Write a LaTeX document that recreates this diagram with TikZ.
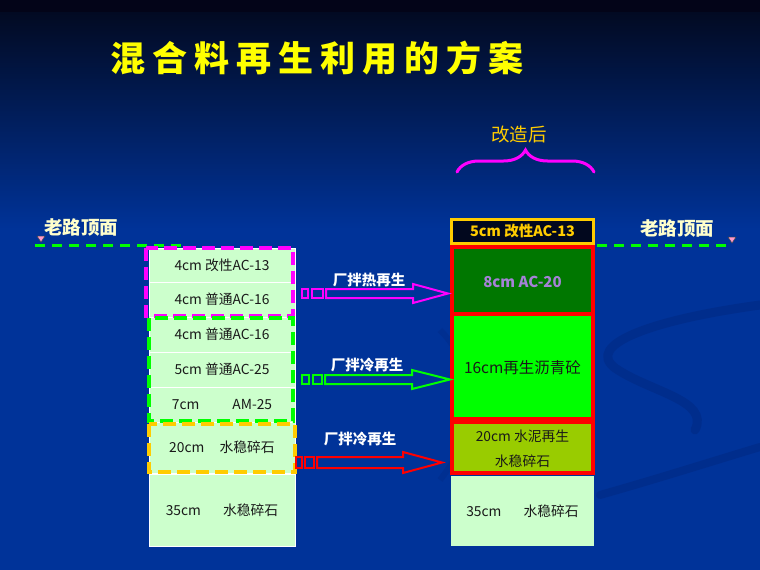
\documentclass[tikz,border=0pt]{standalone}
\usepackage{fontspec}
\newfontfamily\cjk{Noto Sans CJK SC}
\usetikzlibrary{decorations.pathreplacing}
\definecolor{bgblue}{RGB}{0,51,153}
\definecolor{bgtop}{RGB}{2,10,34}
\definecolor{topband}{RGB}{3,4,24}
\definecolor{swirl}{RGB}{0,45,140}
\definecolor{lgreen}{RGB}{204,255,204}
\definecolor{dgreen}{RGB}{0,119,0}
\definecolor{bgreen}{RGB}{0,255,0}
\definecolor{olive}{RGB}{153,204,0}
\definecolor{gold}{RGB}{255,204,0}
\definecolor{cream}{RGB}{255,255,204}
\definecolor{lav}{RGB}{165,130,215}
\definecolor{pink}{RGB}{255,153,204}
\definecolor{mag}{RGB}{255,0,255}
\definecolor{darkfill}{RGB}{2,8,30}
\tikzset{
  layer/.style={draw=white, line width=1pt, fill=lgreen, minimum width=146pt, inner sep=0pt, text=black!90, font=\cjk\fontsize{13.8}{16}\selectfont},
  rlayer/.style={minimum width=141pt, inner sep=0pt, text=black!90, font=\cjk\fontsize{13.8}{16}\selectfont},
  roadline/.style={bgreen, line width=3pt, dash pattern=on 10pt off 7pt},
  dashbox/.style={line width=4pt, dash pattern=on 13pt off 6pt},
  redbox/.style={draw=red, line width=4pt},
  blockarrow/.style={line width=2pt, line join=miter},
  flowlabel/.style={text=white, font=\cjk\bfseries\fontsize{14.5}{17}\selectfont},
  roadlabel/.style={text=cream, font=\cjk\bfseries\fontsize{18.5}{21}\selectfont},
  marker/.style={fill=pink, draw=black!70, line width=0.5pt}
}
\begin{document}
\begin{tikzpicture}[x=1pt,y=-1pt]
\useasboundingbox (0,0) rectangle (760,570);
% background
\fill[bgblue] (0,0) rectangle (760,570);
\shade[top color=bgtop, bottom color=bgblue] (0,12) rectangle (760,230);
\fill[topband] (0,0) rectangle (760,12);
% faint swirls
\draw[swirl, line width=9pt, line cap=round] (760,305) .. controls (650,320) and (585,345) .. (615,368) .. controls (650,392) and (710,400) .. (695,430);
\draw[swirl, line width=8pt, line cap=round] (600,495) .. controls (660,478) and (710,462) .. (760,447);
\draw[swirl, line width=6pt, opacity=0.6] (440,330) .. controls (480,370) and (480,430) .. (440,480);

% title
\node[anchor=west, text={rgb,255:red,255;green,255;blue,0}, font=\cjk\bfseries\fontsize{35}{40}\selectfont\addfontfeature{LetterSpace=20}] (title) at (107,58) {混合料再生利用的方案};

% road lines and labels
\draw[roadline] (35,245) -- (185,245);
\draw[roadline] (597,245) -- (732,245);
\node[roadlabel] (roadL) at (81,227) {老路顶面};
\node[roadlabel] (roadR) at (677,228) {老路顶面};
\fill[marker] (37,236) -- (45,236) -- (41,242) -- cycle;
\fill[marker] (728,237) -- (736,237) -- (732,243) -- cycle;

% left column
\node[layer, minimum height=34pt] (L1) at (222,265) {4cm\ 改性AC-13};
\node[layer, minimum height=35pt] (L2) at (222,299.5) {4cm\ 普通AC-16};
\node[layer, minimum height=35pt] (L3) at (222,334.5) {4cm\ 普通AC-16};
\node[layer, minimum height=35pt] (L4) at (222,369.5) {5cm\ 普通AC-25};
\node[layer, minimum height=35pt] (L5) at (222,404.5) {7cm\hspace{2.4em}AM-25};
\node[layer, minimum height=51pt] (L6) at (222,447.5) {20cm\hspace{1.1em}水稳碎石};
\node[layer, minimum height=72pt] (L7) at (222,510) {35cm\hspace{1.6em}水稳碎石};

% dashed groups
\draw[dashbox, mag] (146,248) rectangle (293,316);
\draw[dashbox, bgreen] (149,318) rectangle (293,421);
\draw[dashbox, gold] (149,424) rectangle (295,472);

% right column
\node[draw=gold, line width=3pt, fill=darkfill, minimum width=142pt, minimum height=24pt, inner sep=0pt, text=gold, font=\cjk\bfseries\fontsize{14.5}{17}\selectfont] (R1) at (522.5,231) {5cm\ 改性AC-13};
\node[rlayer, fill=dgreen, minimum height=67pt, text=lav, font=\cjk\bfseries\fontsize{15}{17}\selectfont] (R2) at (522.5,282) {8cm\ AC-20};
\node[rlayer, fill=bgreen, minimum height=105pt, font=\cjk\fontsize{15.5}{18}\selectfont] (R3) at (522.5,367.5) {16cm再生沥青砼};
\node[rlayer, fill=olive, minimum height=51pt, align=center, font=\cjk\fontsize{13.8}{25}\selectfont] (R4) at (522.5,449) {20cm\ 水泥再生\\水稳碎石};
\node[rlayer, fill=lgreen, minimum width=143pt, minimum height=70pt] (R5) at (522.5,511) {35cm\hspace{1.6em}水稳碎石};
\draw[redbox] (452,247) rectangle (593,419);
\draw[redbox] (452,314) -- (593,314);
\draw[redbox] (452,422) rectangle (593,473);

% brace
\draw[mag, line width=3pt, line cap=round, decorate, decoration={brace, amplitude=22pt}] (457,172) -- (594,172);
\node[text=gold, font=\cjk\fontsize{18.5}{21}\selectfont] (after) at (519,135) {改造后};

% arrows
\draw[blockarrow, mag] (302,289) rectangle (308,298) (312,289) rectangle (323,298);
\draw[blockarrow, mag] (326,289) -- (413,289) -- (413,284) -- (448,293.5) -- (413,303) -- (413,298) -- (326,298) -- cycle;
\node[flowlabel] (lab1) at (369,280) {厂拌热再生};

\draw[blockarrow, bgreen] (302,375) rectangle (309,384) (313,375) rectangle (322,384);
\draw[blockarrow, bgreen] (325,375) -- (412,375) -- (412,370) -- (450,379.5) -- (412,389) -- (412,384) -- (325,384) -- cycle;
\node[flowlabel] (lab2) at (367,365) {厂拌冷再生};

\draw[blockarrow, red] (296,457) rectangle (302,468) (305,457) rectangle (314,468);
\draw[blockarrow, red] (317,457) -- (403,457) -- (403,452) -- (442,462.5) -- (403,473) -- (403,468) -- (317,468) -- cycle;
\node[flowlabel] (lab3) at (360,439) {厂拌冷再生};
\end{tikzpicture}
\end{document}
